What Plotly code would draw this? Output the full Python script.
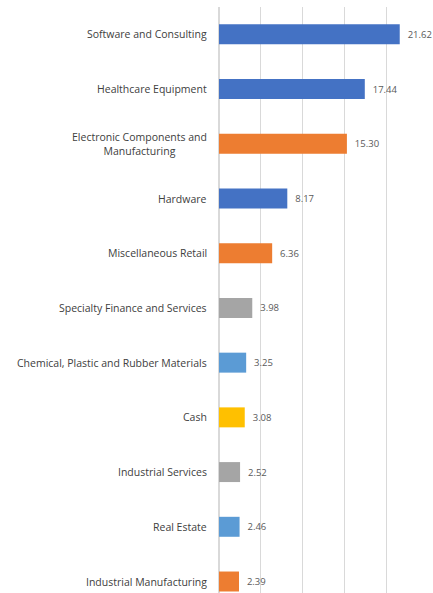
import plotly.graph_objects as go

categories = [
    "Software and Consulting",
    "Healthcare Equipment",
    "Electronic Components and<br>Manufacturing",
    "Hardware",
    "Miscellaneous Retail",
    "Specialty Finance and Services",
    "Chemical, Plastic and Rubber Materials",
    "Cash",
    "Industrial Services",
    "Real Estate",
    "Industrial Manufacturing",
]
values = [21.62, 17.44, 15.30, 8.17, 6.36, 3.98, 3.25, 3.08, 2.52, 2.46, 2.39]
colors = ["#4472C4", "#4472C4", "#ED7D31", "#4472C4", "#ED7D31", "#A5A5A5",
          "#5B9BD5", "#FFC000", "#A5A5A5", "#5B9BD5", "#ED7D31"]

FONT = "Open Sans"

fig = go.Figure()
fig.add_trace(go.Bar(
    x=values, y=categories, orientation="h",
    marker=dict(color=colors, line=dict(width=0)),
    text=["\u00a0\u00a0" + f"{v:.2f}" for v in values],
    textposition="outside",
    constraintext="none",
    textfont=dict(family=FONT, size=9.5, color="#595959"),
    cliponaxis=False,
    hoverinfo="skip",
))

for c in categories:
    fig.add_annotation(
        x=0, xref="paper", y=c, yref="y", text=c, showarrow=False,
        xanchor="right", xshift=-10, align="center",
        font=dict(family=FONT, size=10.5, color="#404040"),
    )

fig.update_layout(
    width=433, height=593,
    margin=dict(l=219, r=5, t=7, b=0),
    paper_bgcolor="white", plot_bgcolor="white",
    bargap=0.635,
    showlegend=False,
    xaxis=dict(range=[0, 25], dtick=5, showgrid=True, gridcolor="#D9D9D9",
               gridwidth=1, zeroline=True, zerolinecolor="#D9D9D9",
               showticklabels=False, ticks="", fixedrange=True),
    yaxis=dict(type="category", range=[10.21, -0.5], showticklabels=False,
               showgrid=False, zeroline=False, ticks="", fixedrange=True),
)

fig.write_html("out.html", config={"displayModeBar": False},
               post_script="document.body.style.margin='0';")
